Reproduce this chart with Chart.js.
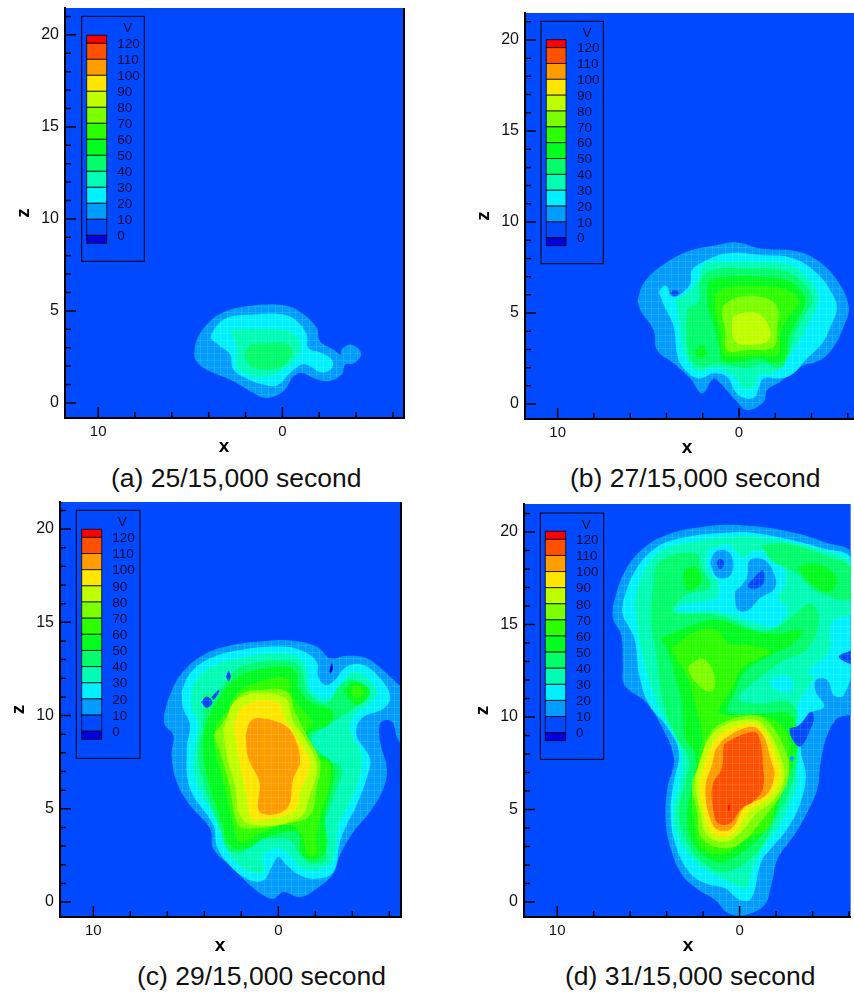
<!DOCTYPE html>
<html>
<head>
<meta charset="utf-8">
<title>Contours</title>
<script src="https://cdn.jsdelivr.net/npm/chart.js@4"></script>
<style>
html, body { margin: 0; padding: 0; background: #fff; overflow: hidden; }
#page { position: relative; width: 854px; height: 998px; overflow: hidden; }
canvas { position: absolute; }
.cap { position: absolute; font: 26.5px "Liberation Sans", Arial, sans-serif; color: #111; white-space: nowrap; line-height: 30px; }
</style>
</head>
<body>
<div id="page"></div>
<script>
// legend + level colours, one colour per band
const bandLevels = [-10, 0, 10, 20, 30, 40, 50, 60, 70, 80, 90, 100, 110, 120];
const bandColors = ['#0000e0', '#0049ff', '#009cff', '#00f0ff', '#00ffb5', '#00ff6a', '#00ff1e', '#2cff00', '#7cff00', '#c0ff00', '#ffe600', '#ff9c00', '#ff5000', '#ff0000'];
const legendLabels = ['120', '110', '100', '90', '80', '70', '60', '50', '40', '30', '20', '10', '0'];
const xTickLabels = [10, 0];
const zTickLabels = [0, 5, 10, 15, 20];
const captions = ['(a) 25/15,000 second', '(b) 27/15,000 second', '(c) 29/15,000 second', '(d) 31/15,000 second'];

// panel a, [x, z] along each contour
const a10 = [[4.79,2.72],[4.64,3.44],[4.1,4.26],[3.29,4.89],[1.93,5.25],[-0.05,5.31],[-1.05,4.89],[-1.86,4.08],[-2.04,3.35],[-2.76,2.9],[-3.16,2.63],[-3.22,2.9],[-3.67,3.17],[-4.17,2.9],[-4.25,2.54],[-3.85,2.14],[-3.4,2.08],[-3.22,1.54],[-2.49,1.18],[-1.68,1.36],[-1.05,1.63],[-0.6,1.45],[-0.05,0.63],[0.85,0.27],[1.57,0.54],[2.66,1.18],[4.28,1.9],[4.73,2.36]];
const a20 = [[3.92,3.53],[3.65,4.08],[3.02,4.62],[1.57,4.8],[-0.05,4.8],[-0.78,4.44],[-1.32,3.71],[-1.41,2.99],[-2.04,2.75],[-2.58,2.45],[-2.76,2.08],[-2.49,1.72],[-2.04,1.67],[-1.5,1.99],[-1.05,2.08],[-0.42,1.63],[0.31,0.94],[1.03,1.0],[1.84,1.27],[2.66,1.81],[2.84,2.63],[3.38,3.08]];
const a30 = [[2.87,3.99],[-0.05,3.99],[-0.69,3.71],[-1.01,2.9],[-0.6,2.26],[-0.05,1.81],[0.58,1.45],[1.57,1.45],[2.38,1.9],[2.51,3.08]];
const a40 = [[1.66,3.22],[-0.23,3.22],[-0.51,2.9],[-0.38,2.36],[0.22,1.9],[1.57,1.9],[1.97,2.36],[2.02,2.72]];

// panel b
const b10 = [[5.59,5.71],[5.26,6.63],[4.34,7.55],[2.87,8.37],[1.21,8.74],[0.11,8.88],[-1.18,8.55],[-3.01,8.42],[-4.3,7.91],[-5.4,6.81],[-6.05,5.35],[-5.77,4.25],[-5.22,3.15],[-4.49,2.42],[-3.38,2.05],[-2.28,1.23],[-1.54,0.77],[-1.36,0.13],[-0.44,-0.33],[0.2,0.22],[1.03,1.14],[1.4,1.41],[2.04,0.59],[2.68,1.41],[3.6,2.23],[4.52,2.97],[4.71,4.07],[5.44,5.16]];
const b20 = [[4.43,6.17],[4.15,6.48],[3.93,6.41],[3.79,5.99],[3.51,5.9],[3.05,6.17],[2.68,6.63],[2.59,7.36],[1.95,7.82],[0.66,8.28],[-1.18,8.19],[-3.01,8.0],[-4.3,7.18],[-5.13,6.08],[-5.4,5.26],[-5.04,4.25],[-4.58,3.33],[-3.75,2.51],[-3.01,1.68],[-2.28,1.41],[-1.36,1.41],[-1.08,0.86],[-0.9,0.4],[-0.35,0.31],[0.2,0.68],[0.66,1.5],[1.4,1.68],[2.22,1.41],[3.05,1.96],[3.42,2.78],[3.6,4.25],[4.06,5.26]];
const b30 = [[3.51,5.71],[2.87,6.08],[2.22,6.9],[1.95,7.64],[0.66,7.82],[-1.18,7.82],[-2.83,7.64],[-3.93,6.81],[-4.39,5.71],[-3.93,4.62],[-3.38,3.52],[-2.65,2.51],[-1.91,1.72],[-1.08,1.59],[-0.81,0.95],[-0.26,0.86],[0.2,1.5],[0.85,1.87],[1.58,1.96],[2.22,1.78],[2.87,2.42],[3.14,3.33],[3.33,4.62]];
const b40 = [[2.87,5.26],[2.22,5.62],[2.13,6.81],[1.4,7.36],[-0.26,7.45],[-2.28,7.36],[-3.38,6.81],[-4.03,5.81],[-3.57,4.8],[-3.01,3.7],[-2.74,2.78],[-2.28,1.96],[-1.36,2.23],[-0.44,1.96],[0.66,2.14],[1.4,2.23],[1.95,2.05],[2.59,2.33],[2.87,3.33]];
const b50 = [[1.76,6.26],[1.58,6.81],[0.66,7.0],[-1.18,7.0],[-2.65,6.81],[-3.38,6.26],[-3.66,5.62],[-3.2,4.62],[-2.74,3.7],[-2.56,2.51],[-1.91,2.23],[-1.18,2.51],[-0.26,2.33],[0.85,2.33],[1.12,3.15],[1.4,4.34],[1.67,5.16]];
const b50b = [[2.41,2.97],[2.04,3.24],[1.76,2.78],[2.04,2.56],[2.35,2.64]];
const b60 = [[1.31,6.08],[0.66,6.41],[-1.18,6.48],[-2.65,6.26],[-3.29,5.62],[-2.74,4.8],[-2.28,3.88],[-2.19,2.78],[-1.18,2.69],[0.11,2.6],[0.85,2.78],[1.03,4.07],[1.31,5.16]];
const b70 = [[0.85,5.44],[0.11,5.86],[-1.36,5.86],[-2.1,5.35],[-2.1,4.16],[-1.91,3.15],[-0.44,2.97],[0.66,2.97],[0.75,4.07],[0.94,4.89]];
const b80 = [[0.33,4.8],[-0.26,5.02],[-1.18,4.89],[-1.73,3.97],[-1.54,3.42],[-0.44,3.24],[0.2,3.42],[0.39,4.16]];
const b0 = [[3.82,6.08],[3.57,6.26],[3.29,6.12],[3.51,5.93]];

// panel c
const c10 = [[6.18,10.03],[5.86,11.1],[5.23,12.26],[4.05,13.25],[2.43,13.79],[0.63,14.0],[-0.63,14.02],[-2.07,13.7],[-2.79,13.07],[-3.69,13.21],[-4.77,13.07],[-5.86,12.26],[-6.58,11.6],[-6.75,11.55],[-6.75,8.42],[-6.4,8.86],[-6.22,9.58],[-5.86,9.76],[-5.5,9.58],[-5.5,8.59],[-5.86,7.16],[-5.68,6.09],[-4.95,4.83],[-4.05,3.76],[-3.33,2.51],[-2.97,1.52],[-2.07,0.72],[-1.17,0.27],[-0.27,0.54],[0.27,0.18],[0.81,0.36],[1.53,0.9],[2.43,1.79],[3.51,2.86],[3.69,3.94],[4.77,5.19],[5.5,6.45],[5.77,7.88],[5.68,8.95],[6.13,9.49]];
const c20 = [[5.23,11.28],[4.77,12.26],[3.69,13.07],[2.07,13.52],[0.09,13.7],[-1.17,13.52],[-2.07,12.89],[-2.16,12.09],[-2.52,11.64],[-2.97,11.82],[-3.69,12.62],[-4.59,12.71],[-5.5,12.0],[-6.04,11.01],[-5.68,10.38],[-4.5,9.85],[-4.23,8.95],[-4.95,7.7],[-4.77,6.62],[-4.23,5.19],[-3.69,4.12],[-3.33,3.22],[-2.97,1.61],[-2.07,1.25],[-1.17,1.43],[-0.45,1.97],[0,2.42],[0.36,1.88],[0.81,1.16],[1.71,1.25],[2.79,2.15],[3.33,3.04],[3.51,4.12],[4.77,6.09],[4.95,8.24],[4.77,9.49],[5.14,10.38]];
const c30 = [[4.68,11.46],[4.23,12.18],[3.15,12.8],[1.71,13.16],[0.09,13.34],[-1.17,13.07],[-1.62,12.18],[-1.71,11.46],[-2.52,10.92],[-3.24,11.37],[-3.87,12.26],[-4.59,12.18],[-5.32,11.28],[-4.95,10.65],[-4.14,10.03],[-3.87,9.31],[-4.5,7.88],[-4.32,6.45],[-3.78,5.19],[-3.24,4.12],[-2.97,2.33],[-2.07,1.7],[-1.17,1.88],[-0.72,2.42],[0,2.86],[0.81,2.51],[0.81,1.61],[1.71,1.7],[2.61,2.51],[3.06,3.58],[3.51,4.66],[4.5,6.62],[4.5,8.59],[4.32,9.49],[4.68,10.38]];
const c40 = [[4.05,11.1],[3.33,11.28],[2.43,12.35],[1.35,12.8],[-0.27,12.95],[-1.17,12.62],[-1.44,11.64],[-1.71,11.1],[-2.61,10.65],[-3.33,11.64],[-4.05,11.91],[-4.77,11.28],[-4.32,10.56],[-2.97,9.67],[-1.8,8.77],[-2.61,7.7],[-3.42,7.16],[-3.15,6.09],[-2.7,4.83],[-2.34,3.76],[-2.61,2.33],[-1.8,2.06],[-1.17,2.51],[-0.63,3.31],[0.27,3.4],[1.35,3.22],[2.07,2.6],[2.79,2.86],[3.15,3.94],[3.96,6.09],[4.32,7.88],[4.05,9.67]];
const c50 = [[3.33,10.74],[2.43,11.91],[1.17,12.44],[-0.45,12.62],[-0.99,12.26],[-1.08,11.46],[-1.71,10.74],[-2.97,10.21],[-2.7,9.49],[-1.71,9.04],[-1.62,8.24],[-2.7,7.7],[-3.06,6.98],[-2.79,5.73],[-2.52,4.48],[-2.61,2.86],[-1.89,2.24],[-1.26,2.6],[-1.08,3.67],[-0.45,3.76],[0.81,3.4],[1.71,2.86],[2.61,3.04],[3.06,4.3],[3.78,6.45],[4.05,8.24],[3.87,9.67]];
const c50b = [[-3.51,11.28],[-4.14,11.82],[-4.95,11.28],[-4.23,10.56]];
const c60 = [[2.79,10.21],[2.16,11.28],[0.99,11.82],[-0.45,12.0],[-0.72,11.1],[-1.26,10.38],[-1.8,9.67],[-1.26,8.59],[-1.71,7.7],[-2.7,7.52],[-2.79,6.45],[-2.34,4.83],[-2.07,3.58],[-2.07,2.6],[-1.62,2.51],[-1.26,3.58],[-0.63,4.12],[0.81,3.76],[2.07,3.22],[2.43,4.12],[2.97,6.45],[3.42,8.24],[3.33,9.49]];
const c60b = [[-3.87,11.28],[-4.23,11.64],[-4.59,11.28],[-4.23,10.92]];
const c60c = [[-1.62,2.86],[-1.8,3.22],[-1.98,2.77],[-1.8,2.51]];
const c70 = [[3.51,8.95],[2.97,9.67],[2.07,11.1],[0.99,11.37],[-0.45,11.28],[-0.9,10.21],[-1.53,8.95],[-2.25,7.52],[-2.07,6.09],[-1.71,4.66],[-0.45,4.21],[1.35,3.94],[2.16,4.12],[2.61,6.09],[3.15,8.06]];
const c80 = [[2.97,9.31],[2.16,10.92],[-0.27,11.01],[-0.81,9.67],[-1.44,8.77],[-2.07,7.34],[-1.71,5.73],[-1.08,4.48],[1.35,4.12],[2.07,4.66],[2.34,6.27],[2.79,7.88]];
const c90 = [[2.43,9.49],[1.8,10.56],[0.09,10.71],[-0.45,9.67],[-1.17,8.59],[-1.71,7.34],[-1.17,5.91],[-0.9,4.92],[0.81,4.39],[1.44,4.48],[1.71,5.73],[2.07,7.34]];
const c100 = [[1.77,8.95],[1.44,9.76],[0.63,9.81],[-0.45,9.4],[-0.9,8.77],[-1.17,7.52],[-0.81,6.62],[-0.45,5.01],[0.99,4.83],[1.03,6.45],[1.62,7.7]];
const c0a = [[4.18,10.72],[3.87,11.02],[3.56,10.72],[3.87,10.42]];
const c0d = [[3.62,10.98],[3.24,11.37],[3.18,11.3],[3.5,10.85]];
const c0b = [[2.83,12.09],[2.69,12.39],[2.56,12.09],[2.69,11.85]];
const c0c = [[-2.76,12.35],[-2.88,12.8],[-2.95,12.53],[-2.83,12.26]];

// panel d
const d10 = [[6.94,16.04],[6.4,17.66],[5.5,18.92],[4.05,19.82],[2.06,20.27],[-0.11,20.36],[-2.82,20.0],[-4.63,19.46],[-6.17,18.74],[-6.17,10.28],[-5.35,9.92],[-4.81,9.02],[-4.45,7.58],[-4.27,6.14],[-3.73,4.88],[-3.0,3.62],[-2.1,2.36],[-1.74,0.92],[-1.37,-0.16],[-0.29,-0.7],[0.61,-0.61],[1.34,0.11],[2.24,0.65],[3.15,1.46],[3.78,2.9],[4.05,4.34],[3.96,6.14],[3.6,7.76],[4.41,9.74],[5.14,10.82],[6.31,11.72],[6.4,12.8],[6.49,14.42],[6.94,15.32]];
const d20 = [[6.4,16.22],[5.86,17.66],[4.77,19.01],[3.33,19.64],[0.8,19.96],[-1.01,19.91],[-4.63,19.1],[-6.17,18.47],[-6.17,13.7],[-5.53,13.34],[-6.17,12.89],[-5.71,11.18],[-5.17,11.18],[-4.81,11.99],[-4.18,11.99],[-4.18,11.36],[-4.63,10.55],[-3.73,10.1],[-3.36,8.3],[-3.63,6.86],[-3.36,5.42],[-2.64,3.98],[-1.74,2.9],[-1.19,2.18],[-0.65,0.2],[-0.02,0.11],[0.8,0.74],[1.88,1.01],[2.78,1.64],[3.51,3.08],[3.78,4.88],[3.6,6.5],[3.33,8.12],[4.05,9.56],[4.95,10.64],[5.5,12.26],[5.77,14.24],[6.4,15.5]];
const d30 = [[5.77,16.22],[5.5,17.3],[4.41,18.92],[2.6,19.46],[0.43,19.73],[-1.01,19.73],[-4.63,19.01],[-6.17,18.2],[-6.17,15.68],[-5.08,15.14],[-4.9,13.52],[-3.73,12.44],[-4.09,12.17],[-3.36,11.0],[-3.0,10.1],[-2.64,9.38],[-2.82,7.94],[-3.18,6.68],[-2.82,5.42],[-2.1,3.98],[-1.28,2.9],[-0.65,1.64],[-0.38,0.74],[0.16,0.92],[1.34,1.46],[2.42,2.18],[3.33,3.44],[3.6,4.88],[3.24,6.5],[3.15,7.94],[3.6,9.02],[4.41,10.46],[5.05,12.26],[5.5,14.24]];
const d20b = [[1.7,19.1],[0.52,19.28],[-0.11,18.65],[-1.01,19.01],[-2.1,18.56],[-2.55,17.3],[-2.1,16.4],[-2.64,15.86],[-1.92,14.87],[-1.01,15.05],[1.16,15.68],[3.51,15.77],[3.15,16.04],[1.34,16.4],[1.16,17.21],[1.79,18.11]];
const d20c = [[-1.65,11.99],[-2.28,12.26],[-2.82,12.08],[-2.91,11.45],[-2.28,11.36],[-1.74,11.72]];
const d10b = [[1.61,18.29],[1.34,18.92],[0.61,18.92],[0.34,18.2],[0.61,17.57],[1.25,17.57]];
const d10c = [[0.25,16.76],[-0.38,17.48],[-0.56,18.47],[-1.37,18.47],[-1.92,17.66],[-1.92,16.94],[-1.1,16.4],[-0.47,15.77],[0.07,15.77],[0.25,16.4]];
const d10d = [[-2.73,7.76],[-2.86,7.9],[-3.0,7.76],[-2.86,7.61]];
const d0a = [[1.28,18.29],[1.07,18.56],[0.83,18.29],[1.07,17.98]];
const d0b = [[-0.43,17.12],[-1.01,17.75],[-1.28,17.93],[-1.34,17.3],[-1.01,16.97],[-0.56,16.97]];
const d0c = [[-2.73,9.38],[-3.27,9.56],[-3.91,10.28],[-4.09,9.92],[-3.82,9.2],[-3.63,8.75],[-3.27,8.39],[-2.82,8.93]];
const d0d = [[-6.17,13.61],[-5.44,13.25],[-6.17,12.89]];
const d40 = [[4.77,16.94],[4.41,18.38],[2.42,18.83],[2.06,18.02],[1.61,17.03],[2.97,16.58],[3.6,15.68],[1.16,15.5],[-1.01,14.69],[-2.1,14.87],[-3.18,15.68],[-3.91,16.13],[-4.36,15.32],[-3.73,13.7],[-2.28,12.98],[-0.83,11.9],[0.07,11.0],[-1.01,10.73],[-2.64,10.82],[-3.18,10.1],[-2.82,9.02],[-3.18,7.76],[-2.64,5.78],[-2.1,4.7],[-1.56,3.62],[-0.83,2.54],[0.8,1.64],[2.06,2.18],[2.78,3.08],[3.33,4.7],[2.97,6.5],[2.78,7.76],[3.33,8.66],[4.05,10.28],[4.41,11.9],[4.59,13.52],[4.86,15.14]];
const d40b = [[-1.19,19.28],[-2.46,19.37],[-4.63,18.74],[-6.17,18.02],[-6.17,16.4],[-4.27,16.76],[-3.0,17.84],[-1.74,18.47]];
const d50 = [[4.32,14.24],[2.6,14.96],[1.16,15.23],[-0.29,14.78],[-1.92,14.51],[-3.45,14.69],[-2.82,13.88],[-1.74,13.34],[-0.29,12.44],[0.25,11.36],[0.61,10.28],[-1.19,10.19],[-2.82,10.1],[-3.18,8.48],[-3.0,7.58],[-2.28,5.78],[-1.92,4.7],[-1.37,3.8],[-0.65,3.08],[0.8,2.18],[1.7,2.36],[2.6,3.26],[2.88,4.7],[2.6,6.32],[2.42,7.94],[2.97,8.84],[3.15,10.82],[3.51,12.08],[3.87,13.34]];
const d50b = [[3.06,17.93],[2.42,18.11],[2.1,17.3],[2.78,16.85],[3.06,17.3]];
const d50c = [[-3.18,18.11],[-3.91,18.29],[-4.99,17.93],[-5.35,17.3],[-4.81,16.76],[-3.91,17.21]];
const d60 = [[3.73,13.7],[2.42,14.6],[1.25,14.69],[0.61,13.97],[-0.29,13.92],[-1.74,13.52],[-1.01,13.16],[-0.11,12.62],[0.34,11.72],[0.8,11.0],[1.16,10.28],[0.71,10.1],[-1.01,10.1],[-2.28,9.56],[-2.82,8.3],[-2.46,6.5],[-1.92,5.06],[-1.56,3.98],[-0.47,3.44],[0.8,2.62],[2.06,2.9],[2.42,3.98],[2.6,5.78],[2.24,7.58],[2.06,9.02],[2.33,10.28],[2.78,11.9],[3.33,12.98]];
const d70 = [[1.88,8.66],[1.16,9.56],[-0.65,10.1],[-1.56,9.74],[-2.46,8.3],[-2.73,7.04],[-2.28,5.78],[-1.74,5.06],[-1.01,4.16],[-0.29,3.35],[0.8,2.9],[2.06,3.44],[2.33,4.88],[2.6,6.32],[2.06,7.76]];
const d70b = [[2.78,12.8],[2.06,13.16],[1.52,12.62],[1.34,11.72],[1.61,11.36],[2.24,11.72],[2.78,12.44]];
const d80 = [[1.97,8.3],[1.16,9.38],[-0.65,9.88],[-1.47,9.38],[-2.28,7.76],[-2.46,6.68],[-1.92,5.6],[-0.83,4.7],[-0.11,3.8],[0.8,3.26],[1.79,3.62],[2.15,4.88],[2.42,6.5]];
const d90 = [[1.7,8.12],[0.98,9.11],[-0.65,9.65],[-1.37,9.2],[-2.1,7.58],[-2.24,6.86],[-1.74,5.78],[-0.47,4.88],[0.25,3.8],[0.98,3.53],[1.52,3.8],[1.97,4.88],[2.15,6.5]];
const d100 = [[1.34,8.21],[0.8,8.84],[-0.65,9.47],[-1.28,9.02],[-1.74,7.58],[-1.92,6.86],[-1.46,5.78],[-0.29,5.15],[0.43,3.98],[1.16,3.89],[1.61,4.52],[1.88,6.14],[1.52,7.4]];
const d110 = [[0.89,8.3],[0.8,8.57],[-0.74,9.2],[-1.1,8.84],[-1.28,7.4],[-1.28,6.14],[-0.74,5.42],[-0.11,5.06],[0.52,4.25],[1.16,4.25],[1.43,4.88],[1.48,6.32],[0.98,7.22]];
const d120 = [[0.65,5.11],[0.56,5.33],[0.54,5.06],[0.6,4.88]];

// paint order: later entries cover earlier ones, [level, contour]
const panelA = [[10, a10], [20, a20], [30, a30], [40, a40]];
const panelB = [[10, b10], [20, b20], [30, b30], [40, b40], [50, b50], [50, b50b], [60, b60], [70, b70], [80, b80], [0, b0]];
const panelC = [[10, c10], [20, c20], [30, c30], [40, c40], [50, c50], [50, c50b], [60, c60], [60, c60b], [60, c60c], [70, c70], [80, c80], [90, c90], [100, c100], [0, c0a], [0, c0d], [0, c0b], [-10, c0c]];
const panelD = [[10, d10], [20, d20], [30, d30], [20, d20b], [40, d40], [40, d40b], [20, d20c], [50, d50], [50, d50b], [50, d50c], [60, d60], [70, d70], [70, d70b], [80, d80], [90, d90], [100, d100], [110, d110], [120, d120], [10, d10b], [10, d10c], [10, d10d], [0, d0a], [0, d0b], [0, d0c], [0, d0d]];

// head = spare room above each canvas, tick labels would otherwise push the plot down
const head = 14;
const panels = [
    { contours: panelA, left: 0, top: 0, w: 406, h: 458, plotL: 65, plotT: 8, plotB: 418, padR: 2, xMin: -6.6, xMax: 11.8, zMin: -0.82, zMax: 21.46, rightLine: true, xTitle: 224, box: [81.7, 16.3, 62.6, 245], bar: [86.7, 35.3, 20, 208], cap: [111, 463] },
    { contours: panelB, left: 427, top: 0, w: 427, h: 458, plotL: 98, plotT: 13, plotB: 419, padR: 0, xMin: -6.34, xMax: 11.8, zMin: -0.82, zMax: 21.48, rightLine: false, xTitle: 260, box: [114, 21.3, 62.3, 242.4], bar: [119.3, 39.7, 19.7, 206], cap: [570, 463] },
    { contours: panelC, left: 0, top: 495, w: 403, h: 458, plotL: 60, plotT: 7, plotB: 422, padR: 2, xMin: -6.63, xMax: 11.8, zMin: -0.8, zMax: 21.45, rightLine: true, xTitle: 220, box: [76.3, 15.3, 63.7, 248], bar: [81.7, 34.3, 20, 210], cap: [137, 961] },
    { contours: panelD, left: 427, top: 495, w: 427, h: 458, plotL: 97, plotT: 9, plotB: 422, padR: 0, xMin: -6.09, xMax: 11.82, zMin: -0.81, zMax: 21.51, rightLine: false, xTitle: 261, box: [113.3, 18, 63.4, 246.3], bar: [118.3, 36.3, 20.4, 209.4], cap: [565, 961] }
];

function bandColor(level) {
    return bandColors[bandLevels.indexOf(level)];
}

// tecplot look: ticks inside the frame, blue floor, legend box, mesh lines
const tecplotPlugin = {
    id: 'tecplot',
    beforeDraw(chart) {
        const a = chart.chartArea;
        chart.ctx.fillStyle = bandColors[1];
        chart.ctx.fillRect(a.left, a.top, a.right - a.left, a.bottom - a.top);
    },
    afterDatasetsDraw(chart) {
        const ctx = chart.ctx, a = chart.chartArea, sx = chart.scales.x, sz = chart.scales.y;
        const outer = chart.getDatasetMeta(0).data;
        ctx.save();
        ctx.beginPath();
        ctx.rect(a.left, a.top, a.right - a.left, a.bottom - a.top);
        ctx.clip();
        ctx.beginPath();
        outer.forEach((p, i) => i ? ctx.lineTo(p.x, p.y) : ctx.moveTo(p.x, p.y));
        ctx.closePath();
        ctx.clip();
        ctx.strokeStyle = 'rgba(255,255,255,0.11)';
        ctx.lineWidth = 1;
        ctx.beginPath();
        for (let v = -7; v < 12; v += 0.37) {
            const px = Math.round(sx.getPixelForValue(v)) + 0.5;
            ctx.moveTo(px, a.top);
            ctx.lineTo(px, a.bottom);
        }
        for (let v = -1; v < 22; v += 0.37) {
            const py = Math.round(sz.getPixelForValue(v)) + 0.5;
            ctx.moveTo(a.left, py);
            ctx.lineTo(a.right, py);
        }
        ctx.stroke();
        ctx.restore();
    },
    afterDraw(chart, args, opts) {
        const ctx = chart.ctx, a = chart.chartArea, p = opts.panel;
        ctx.save();
        ctx.strokeStyle = '#000';
        ctx.lineWidth = 1.5;
        ctx.beginPath();
        chart.scales.x.ticks.forEach(t => {
            const px = chart.scales.x.getPixelForValue(t.value);
            ctx.moveTo(px, a.bottom);
            ctx.lineTo(px, a.bottom - (t.value % 10 === 0 ? 11 : 6));
        });
        chart.scales.y.ticks.forEach(t => {
            const py = chart.scales.y.getPixelForValue(t.value);
            ctx.moveTo(a.left, py);
            ctx.lineTo(a.left + (t.value % 5 === 0 ? 11 : 6), py);
        });
        ctx.stroke();
        if (p.rightLine) {
            ctx.lineWidth = 2;
            ctx.beginPath();
            ctx.moveTo(a.right, a.top);
            ctx.lineTo(a.right, a.bottom);
            ctx.stroke();
        }
        // x title sits off centre in the original
        ctx.fillStyle = '#000';
        ctx.font = 'bold 19px "Liberation Sans", Arial, sans-serif';
        ctx.textAlign = 'center';
        ctx.textBaseline = 'middle';
        ctx.fillText('x', p.xTitle, a.bottom + 29);
        // legend box
        ctx.translate(0, head);
        const [bx, by, bw, bh] = p.box, [cx, cy, cw, ch] = p.bar;
        ctx.lineWidth = 1;
        ctx.strokeStyle = '#000';
        ctx.strokeRect(bx, by, bw, bh);
        const step = ch / 13;
        for (let i = 0; i < 14; i++) {
            const y0 = i === 0 ? cy : cy + step * (i - 0.5);
            const hh = (i === 0 || i === 13) ? step / 2 : step;
            ctx.fillStyle = bandColors[13 - i];
            ctx.fillRect(cx, y0, cw, hh);
            ctx.strokeStyle = 'rgba(0,0,0,0.75)';
            ctx.strokeRect(cx, y0, cw, hh);
        }
        ctx.fillStyle = '#000a30';
        ctx.font = '13.5px "Liberation Sans", Arial, sans-serif';
        ctx.textBaseline = 'middle';
        ctx.textAlign = 'center';
        ctx.fillText('V', bx + 46, by + 12);
        ctx.textAlign = 'left';
        legendLabels.forEach((s, i) => ctx.fillText(s, cx + 30.6, cy + step * (i + 0.5) + 1));
        ctx.restore();
    }
};

const page = document.getElementById('page');
panels.forEach((p, n) => {
    const canvas = document.createElement('canvas');
    canvas.width = p.w;
    canvas.height = p.h + head;
    canvas.style.left = p.left + 'px';
    canvas.style.top = (p.top - head) + 'px';
    page.appendChild(canvas);

    const cap = document.createElement('div');
    cap.className = 'cap';
    cap.textContent = captions[n];
    cap.style.left = p.cap[0] + 'px';
    cap.style.top = p.cap[1] + 'px';
    page.appendChild(cap);

    new Chart(canvas.getContext('2d'), {
        type: 'scatter',
        data: {
            datasets: p.contours.map((c, i) => ({
                label: 'V ' + c[0],
                data: c[1].concat([c[1][0]]).map(q => ({ x: q[0], y: q[1] })),
                showLine: true,
                fill: 'shape',
                backgroundColor: bandColor(c[0]),
                borderWidth: 0,
                pointRadius: 0,
                tension: 0.4,
                order: p.contours.length - i
            }))
        },
        plugins: [tecplotPlugin],
        options: {
            responsive: false,
            animation: false,
            events: [],
            layout: { padding: { top: p.plotT + head, right: p.padR, left: 0, bottom: 0 } },
            plugins: { legend: { display: false }, tooltip: { enabled: false }, tecplot: { panel: p } },
            scales: {
                x: {
                    type: 'linear',
                    reverse: true,
                    min: p.xMin,
                    max: p.xMax,
                    afterFit(s) { s.height = p.h - p.plotB; },
                    grid: { display: false, drawTicks: false },
                    border: { display: true, color: '#000', width: 2, z: 1 },
                    ticks: {
                        stepSize: 2,
                        includeBounds: false,
                        autoSkip: false,
                        maxRotation: 0,
                        padding: 5,
                        color: '#111',
                        font: { family: '"Liberation Sans", Arial, sans-serif', size: 15 },
                        callback: v => xTickLabels.includes(v) ? String(v) : ''
                    }
                },
                y: {
                    type: 'linear',
                    min: p.zMin,
                    max: p.zMax,
                    afterFit(s) { s.width = p.plotL; },
                    grid: { display: false, drawTicks: false },
                    border: { display: true, color: '#000', width: 2, z: 1 },
                    title: {
                        display: true,
                        text: 'z',
                        color: '#000',
                        padding: { top: p.plotL - 52.4, bottom: 0 },
                        font: { family: '"Liberation Sans", Arial, sans-serif', size: 19, weight: 'bold' }
                    },
                    ticks: {
                        stepSize: 1,
                        includeBounds: false,
                        autoSkip: false,
                        padding: 6,
                        color: '#111',
                        font: { family: '"Liberation Sans", Arial, sans-serif', size: 16 },
                        callback: v => zTickLabels.includes(v) ? String(v) : ''
                    }
                }
            }
        }
    });
});
</script>
</body>
</html>
